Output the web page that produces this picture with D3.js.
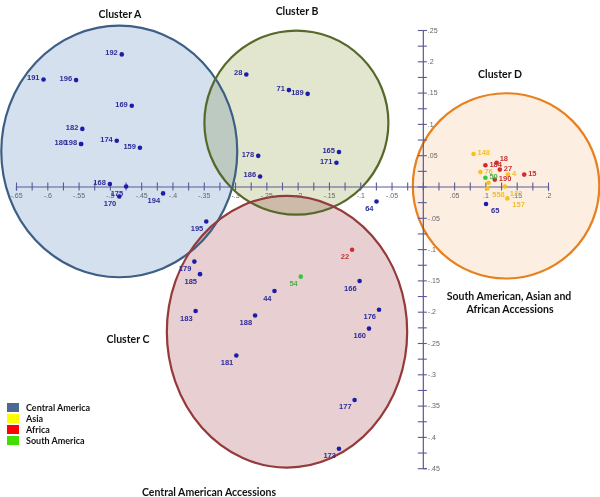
<!DOCTYPE html>
<html><head><meta charset="utf-8">
<script src="https://cdn.jsdelivr.net/npm/d3@7"></script>
<style>
html,body{margin:0;padding:0;background:#fff;}
svg{display:block;}
.fill{mix-blend-mode:multiply;}
</style></head>
<body>
<svg id="chart" width="600" height="497"></svg>
<script>
// ---- data ----
const ids    = ["192","191","196","169","182","198","180","174","159","168","175","170","194","195",
                "28","71","189","178","186","165","171","64",
                "22","54","179","185","166","44","183","176","188","160","181","177","173",
                "148","76","18","184","27","15","4","50","190","","558","157","122","65"];
const pc1    = [-0.481,-0.606,-0.554,-0.465,-0.544,-0.546,-0.546,-0.489,-0.452,-0.500,-0.474,-0.485,-0.415,-0.346,
                -0.282,-0.214,-0.184,-0.263,-0.260,-0.134,-0.138,-0.074,
                -0.113,-0.195,-0.365,-0.356,-0.101,-0.237,-0.363,-0.070,-0.268,-0.086,-0.298,-0.109,-0.134,
                0.081,0.092,0.118,0.100,0.123,0.162,0.136,0.100,0.115,0.105,0.103,0.135,0.131,0.101];
const pc2    = [0.211,0.171,0.170,0.129,0.092,0.068,0.068,0.073,0.062,0.004,0.000,-0.016,-0.011,-0.056,
                0.179,0.154,0.148,0.049,0.016,0.055,0.038,-0.024,
                -0.101,-0.144,-0.120,-0.140,-0.151,-0.167,-0.199,-0.197,-0.206,-0.227,-0.270,-0.341,-0.419,
                0.052,0.023,0.038,0.034,0.027,0.019,0.019,0.014,0.011,0.006,-0.003,-0.019,0.000,-0.028];
const origin = ["CA","CA","CA","CA","CA","CA","CA","CA","CA","CA","CA","CA","CA","CA",
                "CA","CA","CA","CA","CA","CA","CA","CA",
                "AF","SA","CA","CA","CA","CA","CA","CA","CA","CA","CA","CA","CA",
                "AS","AS","AF","AF","AF","AF","AS","SA","AF","AS","AS","AS","AS","CA"];
const labelPos = ["w","w","w","w","w","w","ww","w","w","w","sw","sw","sw","sw",
                "w","w","w","w","w","w","w","sw",
                "sw","sw","sw","sw","sw","sw","sw","sw","sw","sw","sw","sw","sw",
                "e","e","ne","e","e","e","e","e","e","e","se","se","se","se"];

// clusters (centre and radii in PC units)
const clusterNames = ["Cluster A","Cluster B","Cluster C","Cluster D"];
const clusterCx = [-0.485,-0.202,-0.217,0.133];
const clusterCy = [0.056,0.102,-0.232,0.001];
const clusterRx = [0.1885,0.147,0.192,0.149];
const clusterRy = [0.201,0.147,0.217,0.148];

const xTickValues = [-0.65,-0.6,-0.55,-0.5,-0.45,-0.4,-0.35,-0.3,-0.25,-0.2,-0.15,-0.1,-0.05,0,0.05,0.1,0.15,0.2];
const yTickValues = [-0.45,-0.4,-0.35,-0.3,-0.25,-0.2,-0.15,-0.1,-0.05,0,0.05,0.1,0.15,0.2,0.25];

const legendLabels = ["Central America","Asia","Africa","South America"];
const legendKeys = ["CA","AS","AF","SA"];

// ---- styles ----
const clusterFill = ["#d5e0ee","#e2e6cf","#e8d0d2","#fdeee2"];
const clusterStroke = ["#3e5f85","#56692a","#943a3a","#e8801e"];
const dotColor = {CA:"#1c1caa", AS:"#f5c21b", AF:"#d42a2a", SA:"#3cc43c"};
const labColor = {CA:"#2b2b99", AS:"#f0c030", AF:"#c83232", SA:"#4cb04c"};
const legColor = {CA:"#4a6a94", AS:"#ffff00", AF:"#ff0000", SA:"#44dd00"};

const svg = d3.select("#chart");
const x = d3.scaleLinear().domain([-0.65,0.2]).range([16,548]);
const y = d3.scaleLinear().domain([-0.45,0.25]).range([468.2,30]);

// cluster fills
svg.append("g").selectAll("ellipse").data(clusterNames).join("ellipse")
  .attr("class","fill")
  .attr("cx",(d,i)=>x(clusterCx[i])).attr("cy",(d,i)=>y(clusterCy[i]))
  .attr("rx",(d,i)=>x(clusterRx[i])-x(0)).attr("ry",(d,i)=>y(0)-y(clusterRy[i]))
  .attr("fill",(d,i)=>clusterFill[i]);
svg.append("g").selectAll("ellipse").data(clusterNames).join("ellipse")
  .attr("cx",(d,i)=>x(clusterCx[i])).attr("cy",(d,i)=>y(clusterCy[i]))
  .attr("rx",(d,i)=>x(clusterRx[i])-x(0)).attr("ry",(d,i)=>y(0)-y(clusterRy[i]))
  .attr("fill","none").attr("stroke",(d,i)=>clusterStroke[i]).attr("stroke-width",2.2);

// axes
const fmt = v => {
  if (Math.abs(v) < 1e-9) return "";
  return d3.format(".2~f")(v).replace("\u2212","-").replace(/^(-?)0\./,"$1.");
};
const minor = arr => arr.slice(0,-1).map((v,i)=>(v+arr[i+1])/2);
const axisColor = "#5a5a96";

function styleAxis(g){
  g.select(".domain").attr("stroke",axisColor).attr("stroke-width",1.2);
  g.selectAll(".tick line").attr("stroke",axisColor).attr("stroke-width",1.1);
  g.selectAll(".tick text").attr("fill","#666").style("font","7px 'Liberation Sans', Arial, sans-serif");
}
const gx = svg.append("g").attr("transform",`translate(0,${y(0)})`)
  .call(d3.axisBottom(x).tickValues(xTickValues.concat(minor(xTickValues))).tickSize(4)
        .tickFormat(v => xTickValues.some(t=>Math.abs(t-v)<1e-9) ? fmt(v) : ""));
gx.selectAll(".tick line").attr("y1",-4);
gx.selectAll(".tick text").attr("y",7).attr("dy","0.71em");
styleAxis(gx);

const gy = svg.append("g").attr("transform",`translate(${x(0)},0)`)
  .call(d3.axisRight(y).tickValues(yTickValues.concat(minor(yTickValues))).tickSize(4)
        .tickFormat(v => yTickValues.some(t=>Math.abs(t-v)<1e-9) ? fmt(v) : ""));
gy.selectAll(".tick line").attr("x1",-5);
gy.selectAll(".tick text").attr("x",5);
styleAxis(gy);

// points
const pts = ids.map((id,i)=>({id, px:pc1[i], py:pc2[i], o:origin[i], p:labelPos[i]}));
svg.append("g").selectAll("circle").data(pts).join("circle")
  .attr("cx",d=>x(d.px)).attr("cy",d=>y(d.py)).attr("r",2.3)
  .attr("fill",d=>dotColor[d.o]);

const off = {
  w:  {dx:-4, dy:1,   a:"end"},
  ww: {dx:-14,dy:1,   a:"end"},
  sw: {dx:-3, dy:9.5, a:"end"},
  e:  {dx:4,  dy:1.5, a:"start"},
  ne: {dx:3,  dy:-1.5,a:"start"},
  se: {dx:5,  dy:9,   a:"start"}
};
svg.append("g").selectAll("text").data(pts).join("text")
  .attr("x",d=>x(d.px)+off[d.p].dx).attr("y",d=>y(d.py)+off[d.p].dy)
  .attr("text-anchor",d=>off[d.p].a)
  .attr("fill",d=>labColor[d.o])
  .style("font","bold 7.5px 'Liberation Sans', Arial, sans-serif")
  .text(d=>d.id);

// titles
const titleFont = "bold 10.5px Lato, 'Open Sans', sans-serif";
const titles = [
  ["Cluster A",120,18],["Cluster B",297,15],["Cluster C",128,343],["Cluster D",500,78],
  ["South American, Asian and",509,300],["African Accessions",510,313],
  ["Central American Accessions",209,496]
];
svg.append("g").selectAll("text").data(titles).join("text")
  .attr("x",d=>d[1]).attr("y",d=>d[2]).attr("text-anchor","middle")
  .attr("fill","#111").style("font",titleFont).text(d=>d[0]);

// legend
const lg = svg.append("g").attr("transform","translate(7,403)");
lg.selectAll("rect").data(legendKeys).join("rect")
  .attr("x",0).attr("y",(d,i)=>i*11).attr("width",12).attr("height",9)
  .attr("fill",d=>legColor[d]);
lg.selectAll("text").data(legendLabels).join("text")
  .attr("x",19).attr("y",(d,i)=>i*11+7.5)
  .attr("fill","#111").style("font","bold 9px Lato, 'Open Sans', sans-serif")
  .text(d=>d);
</script>
</body></html>
